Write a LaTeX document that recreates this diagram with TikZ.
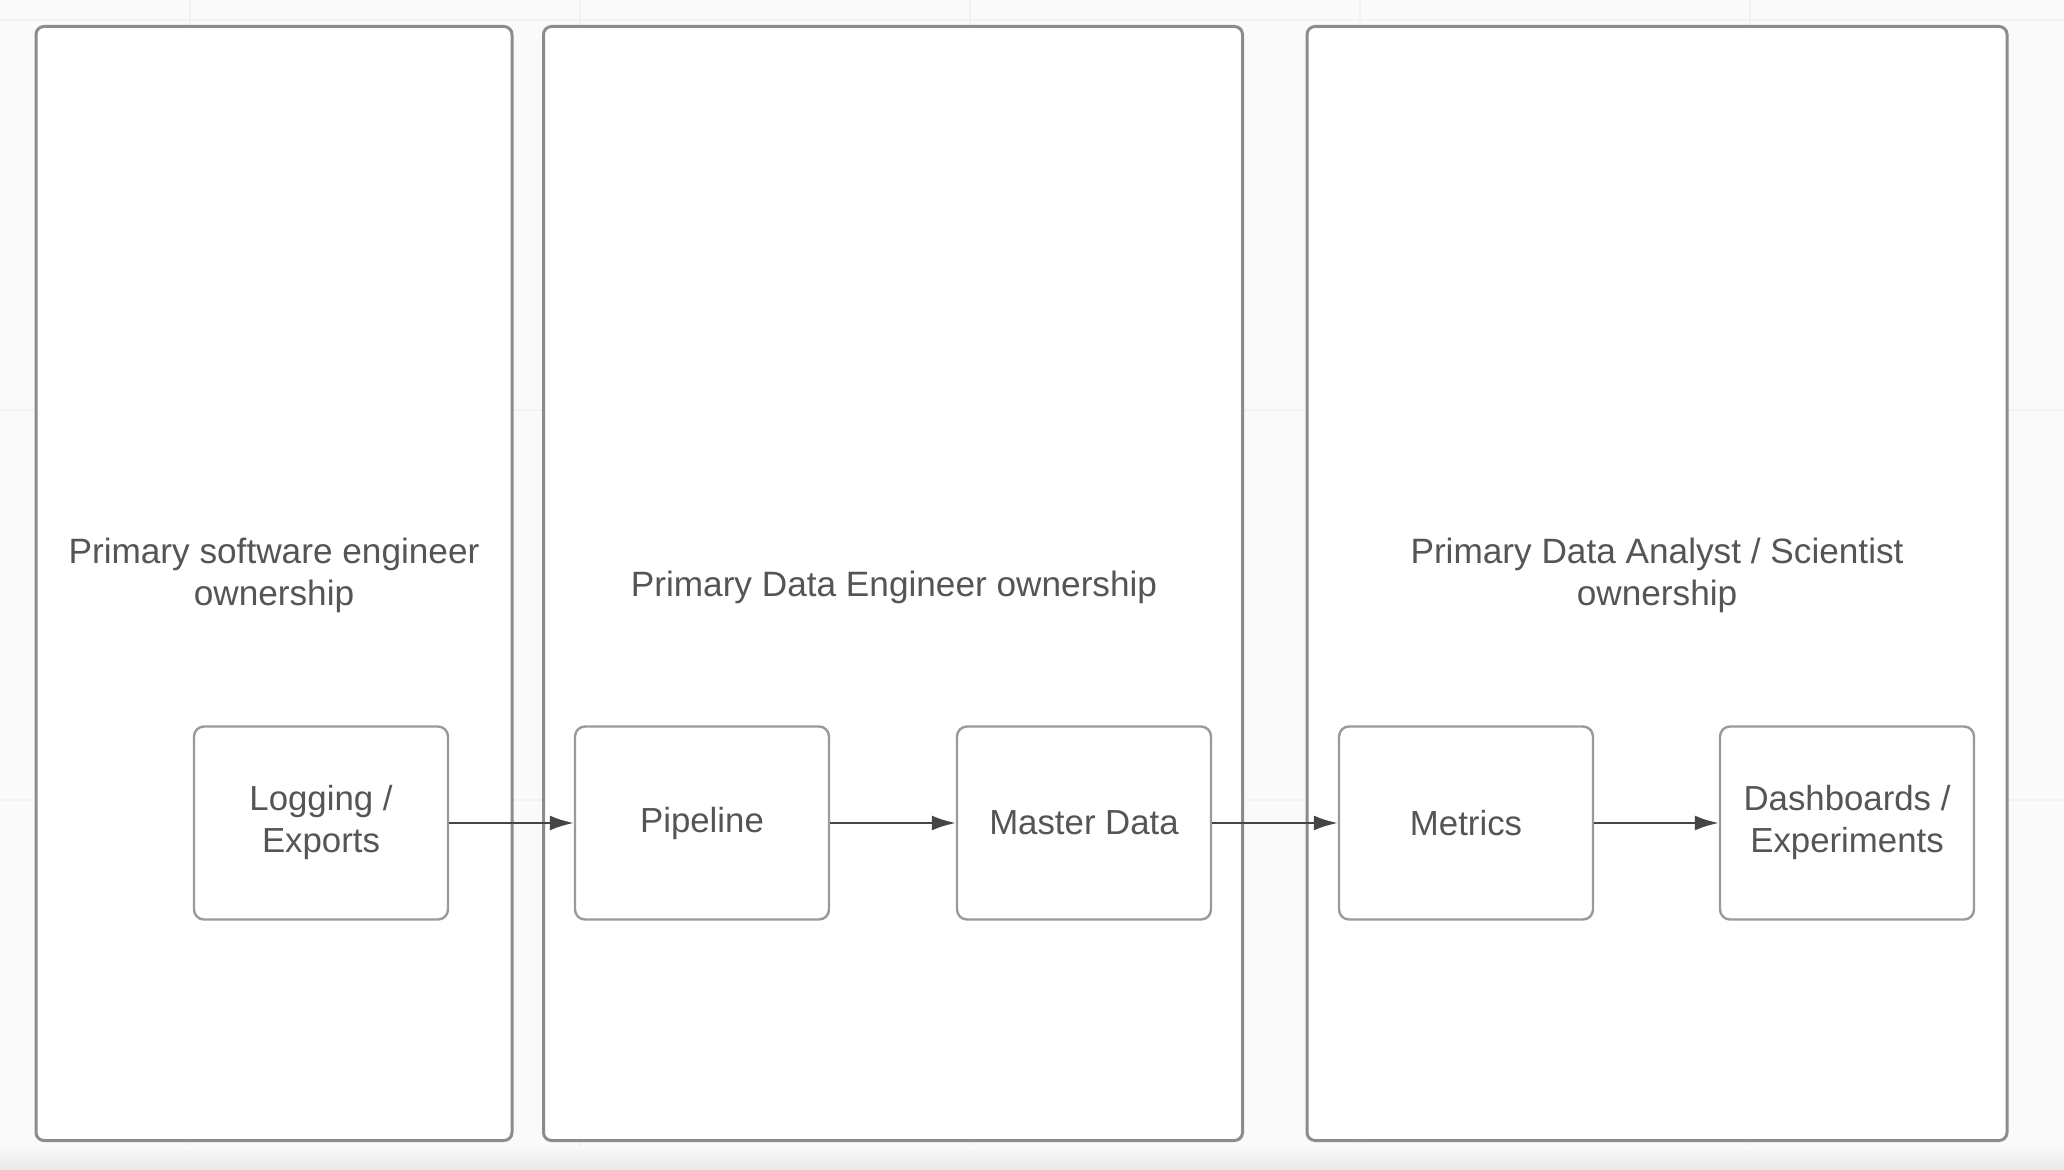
\documentclass[tikz,border=0pt]{standalone}
\usepackage{fontspec}
\setmainfont{Liberation Sans}
\usetikzlibrary{arrows.meta}
\definecolor{bg}{HTML}{FAFAFA}
\definecolor{gridc}{HTML}{F2F2F2}
\definecolor{panelc}{HTML}{8C8C8C}
\definecolor{boxc}{HTML}{9A9A9A}
\definecolor{txt}{HTML}{555555}
\definecolor{arr}{HTML}{454545}
\tikzset{
  panel/.style={draw=panelc, line width=1.5pt, rounded corners=4pt, fill=white, inner sep=0pt},
  title/.style={text=txt, align=center, font=\fontsize{17.6}{21}\selectfont},
  stagebox/.style={draw=boxc, line width=1.2pt, rounded corners=5pt, fill=white,
    minimum width=127pt, minimum height=96.5pt, inner sep=0pt, text=txt, align=center,
    font=\fontsize{17.4}{21}\selectfont},
  flow/.style={draw=arr, line width=1.3pt, -{Latex[length=12pt,width=7.5pt]}}
}
\begin{document}
\begin{tikzpicture}[x=0.5pt,y=-0.5pt]
\useasboundingbox (0,0) rectangle (2064,1170);
\fill[bg] (0,0) rectangle (2064,1170);
\foreach \gx in {190,580,970,1360,1750} \draw[gridc, line width=0.6pt] (\gx,0) -- (\gx,1170);
\foreach \gy in {20,410,800} \draw[gridc, line width=0.6pt] (0,\gy) -- (2064,\gy);
\shade[top color=bg, bottom color=black!9] (0,1146) rectangle (2064,1170);
% panels
\node[panel, minimum width=238pt, minimum height=557pt] (p1) at (274,583.5) {};
\node[panel, minimum width=349.5pt, minimum height=557pt] (p2) at (893,583.5) {};
\node[panel, minimum width=350pt, minimum height=557pt] (p3) at (1657,583.5) {};
% titles
\node[title] (t1) at (274,575) {Primary software engineer\\ownership};
\node[title] (t2) at (894,587) {Primary Data Engineer ownership};
\node[title] (t3) at (1657,575) {Primary Data Analyst / Scientist\\ownership};
% stages
\node[stagebox] (log) at (321,823) {Logging /\\Exports\\[-17pt]\mbox{}};
\node[stagebox] (pipe) at (702,823) {Pipeline};
\node[stagebox] (master) at (1084,823) {Master Data};
\node[stagebox] (metrics) at (1466,823) {Metrics};
\node[stagebox] (dash) at (1847,823) {Dashboards /\\Experiments\\[-17pt]\mbox{}};
% connectors
\draw[flow] (log.east) -- (pipe.west);
\draw[flow] (pipe.east) -- (master.west);
\draw[flow] (master.east) -- (metrics.west);
\draw[flow] (metrics.east) -- (dash.west);
\end{tikzpicture}
\end{document}
